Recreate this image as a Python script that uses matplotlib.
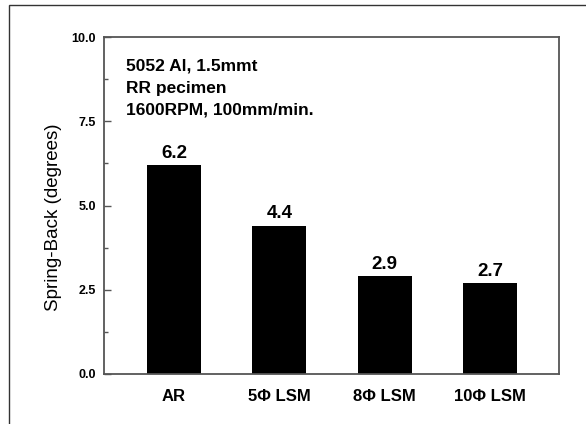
import matplotlib.pyplot as plt
from matplotlib.patches import Rectangle
from matplotlib.ticker import MultipleLocator

categories = ['AR', '5\u03a6 LSM', '8\u03a6 LSM', '10\u03a6 LSM']
spring_back = [6.2, 4.4, 2.9, 2.7]
value_labels = ['6.2', '4.4', '2.9', '2.7']

plt.rcParams['font.family'] = ['Liberation Sans', 'DejaVu Sans']

fig = plt.figure(figsize=(5.86, 4.24), dpi=100)
fig.patches.append(Rectangle((9 / 586, -0.1), 1.2, (424 - 5) / 424 + 0.1,
                             transform=fig.transFigure, fill=False,
                             edgecolor='#333333', linewidth=1.0))

ax = fig.add_axes([104 / 586, 50 / 424, 455 / 586, 337 / 424])
x = range(len(categories))
ax.bar(x, spring_back, width=0.513, color='black')
for xi, v, lab in zip(x, spring_back, value_labels):
    ax.text(xi, v + 0.1, lab, ha='center', va='bottom', fontsize=13.5, fontweight='bold')

ax.set_xlim(-0.665, 3.655)
ax.set_ylim(0, 10)
ax.yaxis.set_minor_locator(MultipleLocator(1.25))
ax.set_yticks([0, 2.5, 5, 7.5, 10])
ax.set_yticklabels(['0.0', '2.5', '5.0', '7.5', '10.0'], fontsize=9, fontweight='bold')
ax.tick_params(axis='y', which='major', direction='in', length=5, width=1, color='#555555', pad=6)
ax.tick_params(axis='y', which='minor', direction='in', length=3, width=1, color='#555555')
ax.set_xticks(list(x))
ax.set_xticklabels(categories, fontsize=12, fontweight='bold')
ax.tick_params(axis='x', length=0, pad=11)
for s in ax.spines.values():
    s.set_color('#555555')
    s.set_linewidth(1.3)

ax.set_ylabel('Spring-Back (degrees)', fontsize=13.5, va='center')
ax.yaxis.set_label_coords(-0.112, 0.466)

ax.text(0.048, 0.936, '5052 Al, 1.5mmt\nRR pecimen\n1600RPM, 100mm/min.',
        transform=ax.transAxes, ha='left', va='top', fontsize=12.5,
        fontweight='bold', linespacing=1.6)

fig.savefig('out.png', dpi=100)
